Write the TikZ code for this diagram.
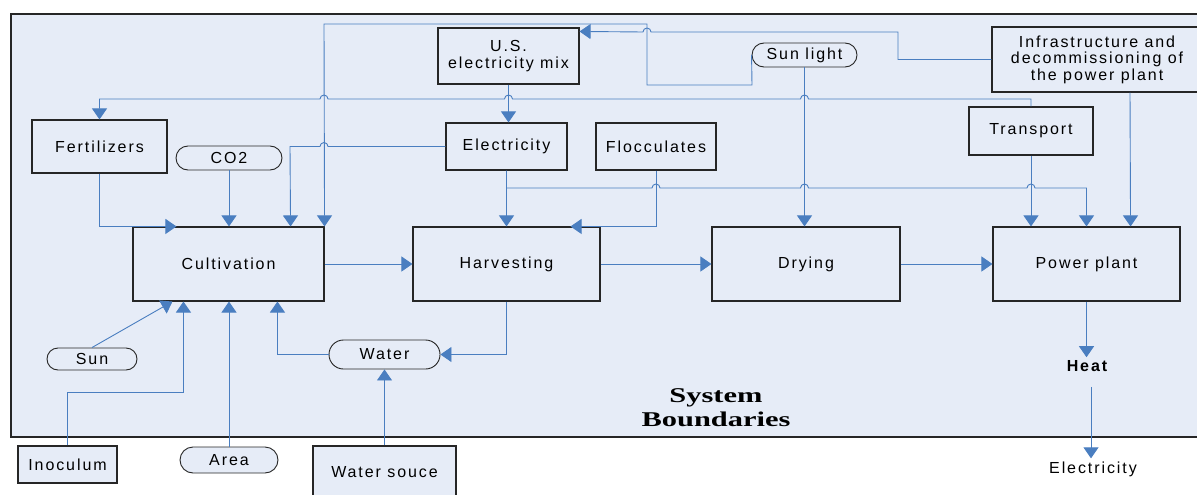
\documentclass[tikz,border=0pt]{standalone}
\usepackage{fontspec}
\setmainfont{Liberation Sans}[LetterSpace=12]
\newfontfamily\boundfont{Liberation Serif}
\usetikzlibrary{arrows.meta,shapes.misc}
\definecolor{bgblue}{HTML}{E6ECF7}
\definecolor{linkblue}{HTML}{4A7EC0}
\tikzset{
  box/.style={rectangle, draw=black!85, line width=1.1pt, fill=bgblue, align=center, inner sep=0pt, font=\fontsize{16}{16.5}\selectfont},
  pill/.style={box, rounded rectangle, line width=0.9pt},
  line/.style={-{Triangle[width=15pt,length=11pt]}, draw=linkblue, line width=0.9pt}
}

\begin{document}
\begin{tikzpicture}[x=1pt, y=-1pt]
  \useasboundingbox (0,0) rectangle (1197,495);
  \clip (0,0) rectangle (1197,495);
  \draw[line width=1.1pt, draw=black!85, fill=bgblue] (11,14) rectangle (1210,437);
  % main chain
  \node[box, minimum width=191pt, minimum height=74pt] (cult) at (228.5,264) {Cultivation};
  \node[box, minimum width=187pt, minimum height=74pt] (harv) at (506.5,264) {Harvesting};
  \node[box, minimum width=188pt, minimum height=74pt] (dry) at (806,264) {Drying};
  \node[box, minimum width=187pt, minimum height=74pt] (plant) at (1086.5,264) {Power plant};
  % inputs
  \node[box, minimum width=135pt, minimum height=53pt] (fert) at (99.5,146.5) {Fertilizers};
  \node[pill, minimum width=106pt, minimum height=24pt] (cotwo) at (229,158) {CO2};
  \node[box, minimum width=141pt, minimum height=56pt] (usmix) at (508.5,56) {U.S.\\electricity mix};
  \node[box, minimum width=121pt, minimum height=47pt] (elec) at (506.5,146.5) {Electricity};
  \node[box, minimum width=120pt, minimum height=47pt] (floc) at (656,146.5) {Flocculates};
  \node[pill, minimum width=105pt, minimum height=24pt] (sunlight) at (804.5,55) {Sun light};
  \node[box, minimum width=210pt, minimum height=65pt] (infra) at (1097,59.5) {Infrastructure and\\decommissioning of\\the power plant};
  \node[box, minimum width=124pt, minimum height=48pt] (transport) at (1031,131) {Transport};
  \node[pill, minimum width=90pt, minimum height=22pt] (sun) at (92,359) {Sun};
  \node[pill, minimum width=111pt, minimum height=29pt] (water) at (384.5,354.5) {Water};
  \node[box, minimum width=99pt, minimum height=37pt] (inoc) at (67.5,464.5) {Inoculum};
  \node[pill, minimum width=98pt, minimum height=26pt] (area) at (229,460) {Area};
  \node[box, minimum width=143pt, minimum height=52pt] (wsrc) at (384.5,472) {Water souce};
  % outputs
  \node[font=\fontsize{16}{16.5}\selectfont\bfseries, inner sep=3pt] (heat) at (1087,366) {Heat};
  \node[font=\fontsize{16}{16.5}\selectfont, inner sep=3pt] (elecout) at (1093,469) {Electricity};
  \node[font=\fontsize{21}{24}\selectfont\boundfont\bfseries, align=center, inner sep=0pt, xscale=1.45, transform shape] (sysb) at (716,408) {System\\Boundaries};
  % main flow
  \draw[line] (cult) -- (harv);
  \draw[line] (harv) -- (dry);
  \draw[line] (dry) -- (plant);
  \draw[line] (plant.south) -- (plant.south |- heat.north);
  \draw[line] ([xshift=4pt,yshift=-12pt]heat.south) -- ([xshift=-2pt]elecout.north);
  % into cultivation
  \draw[line] (fert.south) |- ([xshift=44pt]cult.north west);
  \draw[line] (cotwo.south) -- (cotwo.south |- cult.north);
  \draw[line] (elec.west) -- (328,146.5) arc[start angle=0, end angle=180, radius=4pt] -- (290,146.5) -- ([xshift=-34pt]cult.north east);
  \draw[line] (sunlight.west) -- (752,85) -- (647,85) -- (647,24) -- (324,24) -- (cult.north east);
  \draw[line] (sun.north) -- ([xshift=40pt]cult.south west);
  \draw[line] (inoc.north) -- (67.5,392) -| ([xshift=51pt]cult.south west);
  \draw[line] (area.north) -- (area.north |- cult.south);
  \draw[line] (water.west) -| ([xshift=145pt]cult.south west);
  % water loop
  \draw[line] (harv.south) |- (water.east);
  \draw[line] (wsrc.north) -- (water.south);
  % electricity and other inputs
  \draw[line] (infra.west) -- (898,59.5) -- (898,32) -- (651,32) arc[start angle=0, end angle=180, radius=4pt] -- ([yshift=-4pt]usmix.north east);
  \draw[line] (transport.north) -- (1031,99) -- (808.5,99) arc[start angle=0, end angle=180, radius=4pt] -- (512.5,99) arc[start angle=0, end angle=180, radius=4pt] -- (328,99) arc[start angle=0, end angle=180, radius=4pt] -- (99.5,99) -- (fert.north);
  \draw[line] (usmix.south) -- (usmix.south |- elec.north);
  \draw[line] (elec.south) -- (harv.north);
  \draw[line] (elec.south) -- (506.5,188) -- (652,188) arc[start angle=180, end angle=0, radius=4pt] -- (800.5,188) arc[start angle=180, end angle=0, radius=4pt] -- (1027,188) arc[start angle=180, end angle=0, radius=4pt] -- (1086.5,188) -- (plant.north);
  \draw[line] (floc.south) |- ([xshift=-30pt]harv.north east);
  \draw[line] (sunlight.south) -- (sunlight.south |- dry.north);
  \draw[line] (transport.south) -- (transport.south |- plant.north);
  \draw[line] ([xshift=33pt]infra.south) -- ([xshift=-50pt]plant.north east);
\end{tikzpicture}
\end{document}
